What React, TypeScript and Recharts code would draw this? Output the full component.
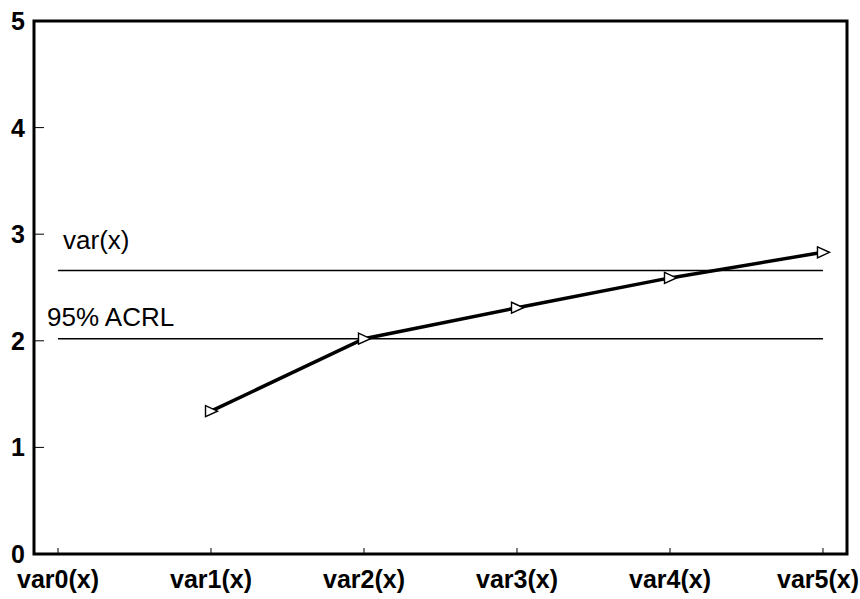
import {
  LineChart,
  Line,
  XAxis,
  YAxis,
  ReferenceLine,
  ReferenceArea,
} from "recharts";

const categories = [
  "var0(x)",
  "var1(x)",
  "var2(x)",
  "var3(x)",
  "var4(x)",
  "var5(x)",
];
const seriesValues: (number | null)[] = [null, 1.34, 2.02, 2.31, 2.59, 2.83];
const yTicks = [0, 1, 2, 3, 4, 5];
const varLevel = 2.66;
const acrlLevel = 2.02;

// x axis is numeric (category index), padded so var0/var5 sit inside the frame
const xDomain = [-0.157, 5.157];
const xTicks = categories.map((_, i) => i);

const FONT = "'Liberation Sans', Arial, Helvetica, sans-serif";
const PLOT_BOTTOM = 554;

const chartData = categories.map((name, i) => ({
  x: i,
  name,
  value: seriesValues[i],
}));

function XTick(props: any) {
  const { x, payload } = props;
  const label = categories[payload.value] ?? "";
  // keep the last label inside the page
  const tx = Math.min(x, 858 - 40);
  return (
    <g>
      <line
        x1={x}
        x2={x}
        y1={PLOT_BOTTOM - 1}
        y2={PLOT_BOTTOM - 6}
        stroke="#000"
        strokeWidth={1}
      />
      <text
        x={tx}
        y={PLOT_BOTTOM + 34}
        textAnchor="middle"
        fontFamily={FONT}
        fontWeight="bold"
        fontSize={25}
        fill="#000"
      >
        {label}
      </text>
    </g>
  );
}

function YTick(props: any) {
  const { x, y, payload } = props;
  return (
    <g>
      <line x1={x} x2={x + 10} y1={y} y2={y} stroke="#000" strokeWidth={1} />
      <text
        x={x - 9}
        y={y + 9}
        textAnchor="end"
        fontFamily={FONT}
        fontWeight="bold"
        fontSize={25}
        fill="#000"
      >
        {payload.value}
      </text>
    </g>
  );
}

// open triangle pointing right
function TriangleDot(props: any) {
  const { cx, cy, index } = props;
  if (cx == null || cy == null || seriesValues[index] == null) return null;
  return (
    <path
      key={`dot-${index}`}
      d={`M${cx - 5.5},${cy - 5.5} L${cx + 6.5},${cy} L${cx - 5.5},${cy + 5.5} Z`}
      fill="#fff"
      stroke="#000"
      strokeWidth={1.4}
    />
  );
}

function refLabel(text: string, dx: number, dy: number) {
  return (props: any) => {
    const vb = props.viewBox || {};
    return (
      <text
        x={(vb.x ?? 0) + dx}
        y={(vb.y ?? 0) + dy}
        fontFamily={FONT}
        fontSize={26}
        fill="#000"
      >
        {text}
      </text>
    );
  };
}

export default function App() {
  return (
    <div
      style={{
        position: "absolute",
        left: 0,
        top: 0,
        width: 860,
        height: 599,
        background: "#fff",
      }}
    >
      <LineChart
        width={860}
        height={599}
        data={chartData}
        margin={{ top: 21, right: 13, bottom: 5, left: 0 }}
      >
        <XAxis
          dataKey="x"
          type="number"
          domain={xDomain}
          ticks={xTicks}
          allowDataOverflow
          axisLine={false}
          tickLine={false}
          tickSize={0}
          tickMargin={0}
          height={40}
          tick={<XTick />}
          interval={0}
        />
        <YAxis
          type="number"
          domain={[0, 5]}
          ticks={yTicks}
          axisLine={false}
          tickLine={false}
          tickSize={0}
          tickMargin={0}
          width={34}
          tick={<YTick />}
          interval={0}
        />
        <ReferenceArea
          x1={xDomain[0]}
          x2={xDomain[1]}
          y1={0}
          y2={5}
          fill="none"
          stroke="#000"
          strokeWidth={3}
          ifOverflow="visible"
        />
        <ReferenceLine
          segment={[
            { x: 0, y: varLevel },
            { x: 5, y: varLevel },
          ]}
          stroke="#000"
          strokeWidth={1.5}
          label={refLabel("var(x)", 5, -21)}
        />
        <ReferenceLine
          segment={[
            { x: 0, y: acrlLevel },
            { x: 5, y: acrlLevel },
          ]}
          stroke="#000"
          strokeWidth={1.5}
          label={refLabel("95% ACRL", -11, -13)}
        />
        <Line
          type="linear"
          dataKey="value"
          stroke="#000"
          strokeWidth={3.5}
          dot={<TriangleDot />}
          activeDot={false}
          isAnimationActive={false}
        />
      </LineChart>
    </div>
  );
}
